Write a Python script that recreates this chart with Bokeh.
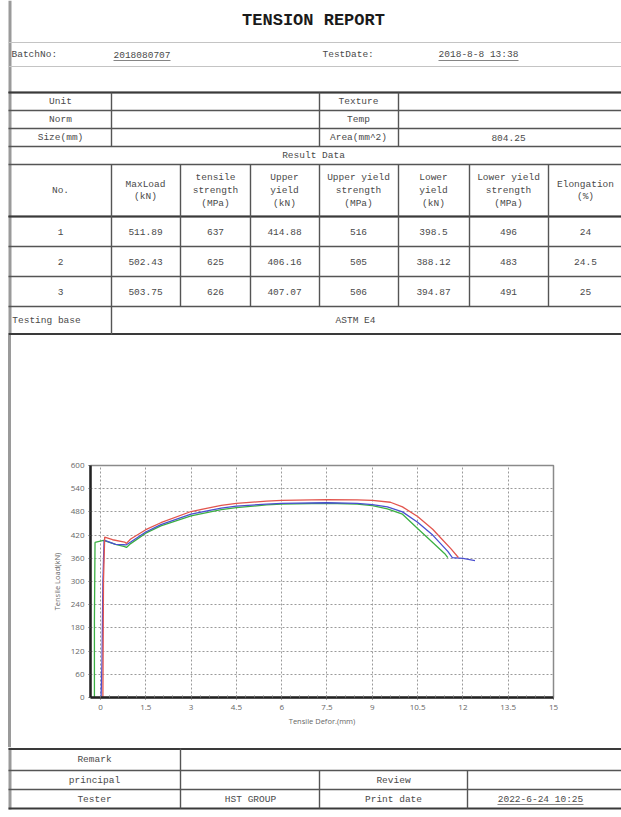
from bokeh.plotting import figure
from bokeh.layouts import column, row
from bokeh.models import Range1d, FixedTicker, NumeralTickFormatter, Div
from bokeh.core.properties import value
from bokeh.embed import file_html
from bokeh.resources import INLINE

# ---------------- data ----------------
title_text = "TENSION REPORT"
batch_no = "2018080707"
test_date = "2018-8-8 13:38"
area_value = "804.25"
info_labels_left = ["Unit", "Norm", "Size(mm)"]
info_labels_right = ["Texture", "Temp", "Area(mm^2)"]
header_labels = ["No.", "MaxLoad\n(kN)", "tensile\nstrength\n(MPa)", "Upper\nyield\n(kN)",
                 "Upper yield\nstrength\n(MPa)", "Lower\nyield\n(kN)",
                 "Lower yield\nstrength\n(MPa)", "Elongation\n(%)"]
specimen_no = ["1", "2", "3"]
max_load = ["511.89", "502.43", "503.75"]
tensile_strength = ["637", "625", "626"]
upper_yield = ["414.88", "406.16", "407.07"]
upper_yield_strength = ["516", "505", "506"]
lower_yield = ["398.5", "388.12", "394.87"]
lower_yield_strength = ["496", "483", "491"]
elongation = ["24", "24.5", "25"]
testing_base = "ASTM E4"
tester = "HST GROUP"
print_date = "2022-6-24 10:25"

x_ticks = [0, 1.5, 3, 4.5, 6, 7.5, 9, 10.5, 12, 13.5, 15]
y_ticks = [0, 60, 120, 180, 240, 300, 360, 420, 480, 540, 600]

# specimen 1 (red)
s1_x = [0.08, 0.1, 0.14, 0.4, 0.8, 0.86, 1.0, 1.5, 2.0, 3.0, 4.0, 4.5, 5.5, 6.0, 7.5, 8.5, 9.0, 9.6, 10.0, 10.5, 11.0, 11.3, 11.6, 11.85]
s1_y = [0, 300, 414.9, 408, 402, 398.5, 410, 434, 452, 481, 497, 502, 508, 510, 511.9, 511, 510, 505, 493, 468, 435, 410, 385, 362]
# specimen 3 (blue)
s3_x = [0.02, 0.05, 0.08, 0.12, 0.5, 0.8, 0.86, 1.0, 1.5, 2.0, 3.0, 4.0, 4.5, 5.5, 6.0, 7.5, 8.5, 9.0, 9.5, 10.0, 10.5, 11.0, 11.5, 11.65, 12.0, 12.4]
s3_y = [0, 90, 300, 407.1, 396, 395, 394.9, 402, 428, 447, 474, 490, 495, 500, 502, 503.7, 502, 499, 493, 480, 453, 420, 378, 362, 360, 354]
# specimen 2 (green)
s2_x = [-0.2, -0.2, -0.18, 0.1, 0.5, 0.8, 0.86, 1.0, 1.5, 2.0, 3.0, 4.0, 4.5, 5.5, 6.0, 7.5, 8.5, 9.0, 9.5, 10.0, 10.5, 11.0, 11.4, 11.5]
s2_y = [0, 200, 401, 406.2, 396, 390, 388.1, 398, 425, 444, 470, 486, 491, 498, 500, 502.4, 500, 496, 488, 474, 437, 401, 372, 362]

# ---------------- styles ----------------
MONO = value("Liberation Mono")
TXT = "#4a4a4a"
LINE = "#555555"
FW = 621
BX = 9.5  # left gray border


def table_fig(height, y0, y1):
    p = figure(width=FW, height=height, x_range=Range1d(0, FW), y_range=Range1d(y1, y0),
               toolbar_location=None, output_backend="svg", min_border=0,
               x_axis_type=None, y_axis_type=None)
    p.outline_line_color = None
    p.background_fill_color = "white"
    p.border_fill_color = "white"
    return p


def add_texts(p, xs, ys, texts, size="9.5px", align="center", color=TXT, style="normal", font=MONO):
    p.text(x=xs, y=ys, text=texts, text_font=font, text_font_size=size, text_align=align,
           text_baseline="middle", text_color=color, text_font_style=style, text_line_height=1.15)


def add_segs(p, segs, color=LINE, width=1.4):
    p.segment(x0=[s[0] for s in segs], y0=[s[1] for s in segs],
              x1=[s[2] for s in segs], y1=[s[3] for s in segs],
              line_color=color, line_width=width)


# ---------- top part (y 0..335) ----------
top = table_fig(335, 0, 335)
add_segs(top, [(BX, 0, BX, 335)], color="#9a9a9a", width=3)
add_texts(top, [313], [20], [title_text], size="17px", color="#1a1a1a", style="bold")
# batch row
add_segs(top, [(8, 42, FW, 42), (8, 66, FW, 66)], color="#c4c4c4", width=1)
add_texts(top, [11, 113, 322], [54, 54, 54], ["BatchNo:", batch_no, "TestDate:"], align="left")
add_texts(top, [478], [54], [test_date])
add_segs(top, [(113, 60, 170, 60), (438, 60, 518, 60)], color="#666", width=0.8)
# horizontal grid lines
hy = [92, 110, 128, 146, 164, 216, 246, 276, 306]
add_segs(top, [(8, y, FW, y) for y in hy], width=1.4)
add_segs(top, [(8, 216, FW, 216), (8, 92, FW, 92), (8, 333.5, FW, 333.5)], color="#3a3a3a", width=2)
# verticals
add_segs(top, [(x, 92, x, 146) for x in [111, 319, 398]])
add_segs(top, [(x, 164, x, 306) for x in [111, 180, 250, 319, 398, 469, 548]])
add_segs(top, [(111, 306, 111, 334)])
# info rows
info_y = [101, 119, 137]
add_texts(top, [60] * 3, info_y, info_labels_left)
add_texts(top, [358] * 3, info_y, info_labels_right)
add_texts(top, [508], [137], [area_value])
add_texts(top, [313], [155], ["Result Data"])
col_x = [60, 145, 215, 284, 358, 433, 508, 585]
add_texts(top, col_x, [190] * 8, header_labels)
row_y = [231, 261, 291]
cols = [specimen_no, max_load, tensile_strength, upper_yield, upper_yield_strength,
        lower_yield, lower_yield_strength, elongation]
for cx, vals in zip(col_x, cols):
    add_texts(top, [cx] * 3, row_y, vals)
add_texts(top, [46, 355], [320, 320], ["Testing base", testing_base])

# ---------- middle (chart) y 335..747 ----------
strip = Div(text="", width=12, height=412, margin=0,
            styles={"background": "linear-gradient(to right, #ffffff 8px, #9a9a9a 8px, #9a9a9a 11px, #ffffff 11px)"})

ch = figure(width=FW - 12, height=412, x_range=Range1d(-0.33, 15), y_range=Range1d(0, 600),
            toolbar_location=None, output_backend="svg",
            min_border_left=78, min_border_right=68, min_border_top=130, min_border_bottom=50)
ch.outline_line_color = "#8a8a8a"
ch.outline_line_width = 1.5
ch.background_fill_color = "white"
ch.border_fill_color = "white"
for ax in (ch.xaxis[0], ch.yaxis[0]):
    ax.axis_line_color = "#222222"
    ax.axis_line_width = 2.5
    ax.major_tick_in = 0
    ax.major_tick_out = 2
    ax.major_tick_line_color = "#555"
    ax.minor_tick_in = 2
    ax.minor_tick_out = 0
    ax.minor_tick_line_color = "#777"
    ax.major_label_text_font = "Open Sans"
    ax.major_label_text_font_size = "8px"
    ax.major_label_text_color = "#666"
    ax.axis_label_text_font = "Open Sans"
    ax.axis_label_text_font_size = "7.5px"
    ax.axis_label_text_color = "#666"
    ax.axis_label_text_font_style = "normal"
ch.xaxis.ticker = FixedTicker(ticks=x_ticks, minor_ticks=[i * 0.3 for i in range(0, 51)])
ch.yaxis.ticker = FixedTicker(ticks=y_ticks)
ch.yaxis.minor_tick_in = 0
ch.xaxis.formatter = NumeralTickFormatter(format="0.[0]")
ch.xaxis.axis_label = "Tensile Defor.(mm)"
ch.yaxis.axis_label = "Tensile Load(kN)"
ch.xaxis.major_label_standoff = 5
ch.xaxis.axis_label_standoff = 3
ch.yaxis.major_label_standoff = 4
ch.yaxis.axis_label_standoff = 6
ch.grid.grid_line_color = "#9a9a9a"
ch.grid.grid_line_dash = "2 2"
ch.grid.grid_line_width = 1

ch.line(s2_x, s2_y, line_color="#3cb043", line_width=1.3)
ch.line(s3_x, s3_y, line_color="#4a4fd0", line_width=1.3)
ch.line(s1_x, s1_y, line_color="#e2554e", line_width=1.3)

mid = row(strip, ch, spacing=0)

# ---------- bottom part y 747..817 ----------
bot = table_fig(70, 747, 817)
add_segs(bot, [(BX, 747, BX, 809)], color="#9a9a9a", width=3)
add_segs(bot, [(8, 748.5, FW, 748.5), (8, 808, FW, 808)], color="#3a3a3a", width=2.2)
add_segs(bot, [(8, 770, FW, 770), (8, 789, FW, 789)], width=1.4)
add_segs(bot, [(180, 748, 180, 808), (319, 770, 319, 808), (467, 770, 467, 808)])
add_texts(bot, [94, 94, 94], [759, 779.5, 798.5], ["Remark", "principal", "Tester"])
add_texts(bot, [250, 393, 393], [798.5, 779.5, 798.5], [tester, "Review", "Print date"])
add_texts(bot, [540], [798.5], [print_date])
add_segs(bot, [(497, 804, 583, 804)], color="#666", width=0.8)

layout = column(top, mid, bot, spacing=0)
open("out.html", "w").write(file_html(layout, INLINE))
